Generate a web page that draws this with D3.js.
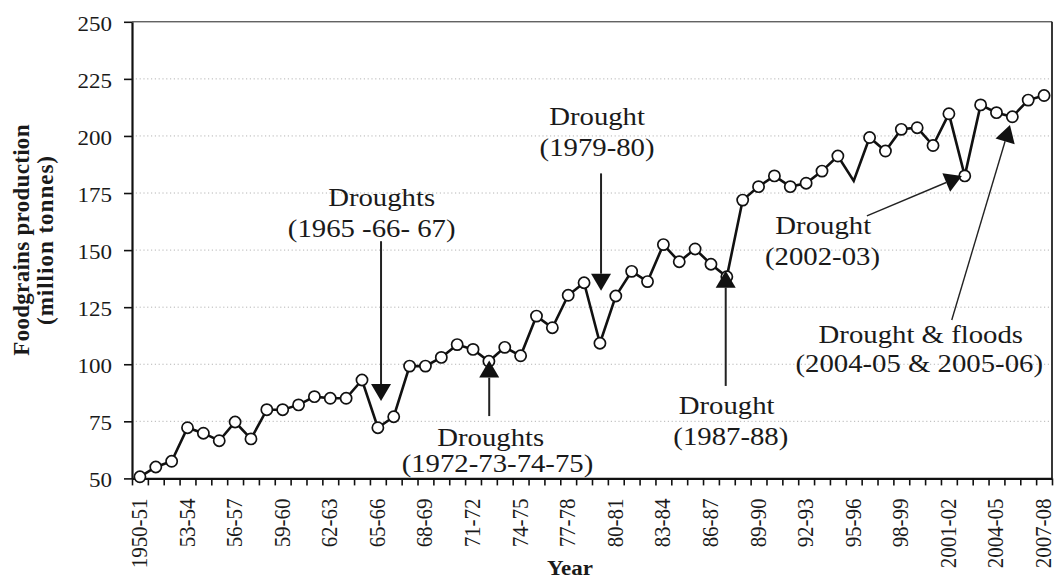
<!DOCTYPE html>
<html>
<head>
<meta charset="utf-8">
<script src="https://cdn.jsdelivr.net/npm/d3@7"></script>
<style>
  html, body { margin: 0; padding: 0; background: #fff; }
  svg { display: block; }
  text { font-family: "Liberation Serif", "Times New Roman", serif; fill: #1a1a1a; }
</style>
</head>
<body>
<svg id="chart" width="1055" height="584"></svg>
<script>
// ---------------- DATA ----------------
const categories = [
  "1950-51","1951-52","1952-53","1953-54","1954-55","1955-56","1956-57","1957-58","1958-59","1959-60",
  "1960-61","1961-62","1962-63","1963-64","1964-65","1965-66","1966-67","1967-68","1968-69","1969-70",
  "1970-71","1971-72","1972-73","1973-74","1974-75","1975-76","1976-77","1977-78","1978-79","1979-80",
  "1980-81","1981-82","1982-83","1983-84","1984-85","1985-86","1986-87","1987-88","1988-89","1989-90",
  "1990-91","1991-92","1992-93","1993-94","1994-95","1995-96","1996-97","1997-98","1998-99","1999-00",
  "2000-01","2001-02","2002-03","2003-04","2004-05","2005-06","2006-07","2007-08"
];
const production = [
  50.7, 55.0, 57.5, 72.2, 69.8, 66.5, 74.7, 67.3, 80.1, 80.1,
  82.2, 85.8, 85.1, 85.1, 93.1, 72.2, 77.0, 99.2, 99.2, 103.0,
  108.6, 106.5, 101.3, 107.4, 103.7, 121.1, 116.0, 130.2, 135.7, 109.2,
  129.9, 140.7, 136.2, 152.4, 144.9, 150.5, 143.8, 138.3, 171.9, 177.8,
  182.5, 177.8, 179.3, 184.6, 191.2, 180.3, 199.3, 193.4, 202.9, 203.6,
  195.8, 209.7, 182.5, 213.6, 210.2, 208.4, 215.7, 217.7
];
const hiddenMarkers = ["1995-96"];
const tickCategories = ["1950-51","1953-54","1956-57","1959-60","1962-63","1965-66","1968-69","1971-72",
  "1974-75","1977-78","1980-81","1983-84","1986-87","1989-90","1992-93","1995-96","1998-99",
  "2001-02","2004-05","2007-08"];
const tickLabels = ["1950-51","53-54","56-57","59-60","62-63","65-66","68-69","71-72","74-75","77-78",
  "80-81","83-84","86-87","89-90","92-93","95-96","98-99","2001-02","2004-05","2007-08"];
const yTicks = [50, 75, 100, 125, 150, 175, 200, 225, 250];
const yTitle = ["Foodgrains production", "(million tonnes)"];
const xTitle = "Year";

// annotations in data space: i = category index (fractional), v = value
const annotations = [
  { lines: [["Droughts", 15.24, 169.4], ["(1965 -66- 67)", 14.61, 155.9]], from: [15.20, 153.9], to: [15.20, 83.9] },
  { lines: [["Drought", 28.82, 204.8], ["(1979-80)", 28.82, 191.2]], from: [29.07, 183.6], to: [29.07, 132.2] },
  { lines: [["Droughts", 22.12, 64.2], ["(1972-73-74-75)", 22.54, 52.9]], from: [22.02, 77.3], to: [22.02, 101.6] },
  { lines: [["Drought", 36.99, 78.0], ["(1987-88)", 37.25, 64.6]], from: [36.93, 90.5], to: [36.93, 141.0] },
  { lines: [["Drought", 43.08, 157.0], ["(2002-03)", 43.03, 143.5]], from: [45.83, 165.0], to: [51.82, 182.5] },
  { lines: [["Drought & floods", 49.23, 109.2], ["(2004-05 & 2005-06)", 49.13, 96.6]], from: [51.18, 119.4], to: [54.85, 204.8] }
];

// ---------------- LAYOUT ----------------
const svg = d3.select("#chart");
const pLeft = 132, pRight = 1052, pTop = 21.8, pBottom = 478.4;
const SX = 1.15; // horizontal stretch of the reference's type

const x = d3.scaleBand().domain(categories).range([pLeft, pRight]).padding(0);
const bw = x.bandwidth();
const cx = c => x(c) + bw / 2;
const xi = d3.scaleLinear().domain([-0.5, categories.length - 0.5]).range([pLeft, pRight]);
const xEdge = d3.scaleLinear().domain([0, categories.length]).range([pLeft, pRight]);
const y = d3.scaleLinear().domain([50, 250]).range([pBottom, pTop]);

// gridlines
svg.append("g").selectAll("line").data(yTicks.filter(t => t > 50 && t < 250)).join("line")
  .attr("x1", pLeft).attr("x2", pRight)
  .attr("y1", d => y(d)).attr("y2", d => y(d))
  .attr("stroke", "#b5b5b5").attr("stroke-width", 1).attr("stroke-dasharray", "1.2,2.6");

// frame (top/right)
svg.append("line").attr("x1", pLeft).attr("x2", pRight).attr("y1", pTop).attr("y2", pTop)
  .attr("stroke", "#222").attr("stroke-width", 1);
svg.append("line").attr("x1", pRight).attr("x2", pRight).attr("y1", pTop).attr("y2", pBottom)
  .attr("stroke", "#222").attr("stroke-width", 1.8);

// x axis with ticks on band edges
const xAxis = svg.append("g").attr("transform", `translate(0,${pBottom})`)
  .call(d3.axisBottom(xEdge).tickValues(d3.range(0, categories.length + 1)).tickFormat("").tickSize(7).tickSizeOuter(0));
xAxis.select(".domain").attr("stroke", "#111").attr("stroke-width", 2.2);
xAxis.selectAll(".tick line").attr("stroke", "#111").attr("stroke-width", 1.6);

// x tick labels
svg.append("g").selectAll("text").data(tickCategories).join("text")
  .attr("transform", (d) => `translate(${cx(d) + 7},${pBottom + 20}) scale(1.08,1) rotate(-90)`)
  .attr("text-anchor", "end")
  .attr("font-size", 21)
  .text((d, i) => tickLabels[i]);

// y axis
const yAxis = svg.append("g").attr("transform", `translate(${pLeft},0)`)
  .call(d3.axisLeft(y).tickValues(yTicks).tickSize(8).tickSizeOuter(0));
yAxis.select(".domain").attr("stroke", "#111").attr("stroke-width", 2.2);
yAxis.selectAll(".tick line").attr("stroke", "#111").attr("stroke-width", 1.6);
yAxis.selectAll(".tick text")
  .attr("x", 0).attr("dy", "0.42em")
  .attr("transform", `translate(-20,0) scale(${SX},1)`)
  .attr("font-size", 20)
  .style("font-family", '"Liberation Serif", serif').attr("fill", "#1a1a1a");

// axis titles
svg.append("text")
  .attr("transform", `translate(${(pLeft + pRight) / 2 - 22},575) scale(${SX},1)`)
  .attr("text-anchor", "middle").attr("font-size", 20).attr("font-weight", "bold")
  .text(xTitle);
yTitle.forEach((t, k) => {
  svg.append("text")
    .attr("transform", `translate(${29 + k * 24},240) rotate(-90)`)
    .attr("text-anchor", "middle").attr("font-size", 23).attr("font-weight", "bold")
    .attr("letter-spacing", k === 1 ? 1.0 : 0.3)
    .text(t);
});

// series line
const pts = categories.map((c, i) => ({ c, v: production[i] }));
svg.append("path").datum(pts)
  .attr("fill", "none").attr("stroke", "#111").attr("stroke-width", 2.6).attr("stroke-linejoin", "miter")
  .attr("d", d3.line().x(d => cx(d.c)).y(d => y(d.v)));

svg.append("g").selectAll("circle").data(pts.filter(d => !hiddenMarkers.includes(d.c))).join("circle")
  .attr("cx", d => cx(d.c)).attr("cy", d => y(d.v)).attr("r", 5.6)
  .attr("fill", "#fff").attr("stroke", "#111").attr("stroke-width", 1.7);

// annotations
const ann = svg.append("g");
annotations.forEach(a => {
  const x1 = xi(a.from[0]), y1 = y(a.from[1]), x2 = xi(a.to[0]), y2 = y(a.to[1]);
  const dx = x2 - x1, dy = y2 - y1, L = Math.hypot(dx, dy);
  const ux = dx / L, uy = dy / L, hl = 17, hw = 10;
  const bx = x2 - ux * hl, by = y2 - uy * hl;
  ann.append("line").attr("x1", x1).attr("y1", y1).attr("x2", bx).attr("y2", by)
    .attr("stroke", "#222").attr("stroke-width", dx === 0 ? 2 : 1.4);
  ann.append("path")
    .attr("d", `M${x2},${y2}L${bx - uy * hw},${by + ux * hw}L${bx + uy * hw},${by - ux * hw}Z`)
    .attr("fill", "#111");
  a.lines.forEach(([t, i, v]) => {
    ann.append("text")
      .attr("transform", `translate(${xi(i)},${y(v)}) scale(${SX},1)`)
      .attr("text-anchor", "middle").attr("font-size", 25)
      .text(t);
  });
});
</script>
</body>
</html>
